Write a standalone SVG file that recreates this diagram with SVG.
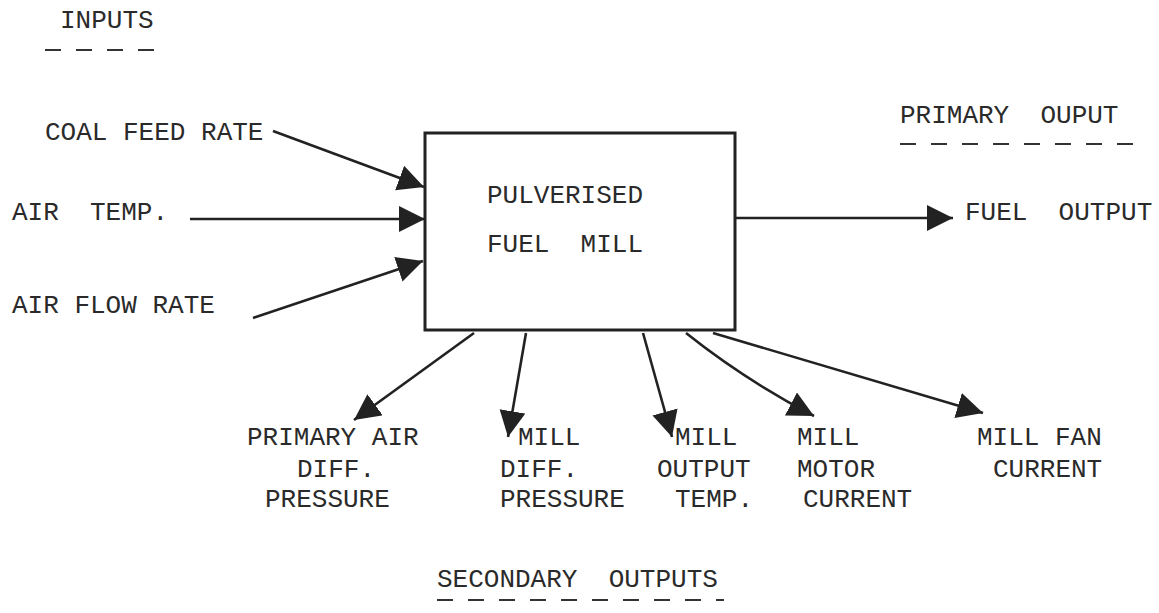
<svg xmlns="http://www.w3.org/2000/svg" width="1159" height="613" viewBox="0 0 1159 613" xml:space="preserve">
<style>
text{font-family:"Liberation Mono","DejaVu Sans Mono",monospace;font-size:26px;fill:#2a2a2a;white-space:pre;}
.c{stroke:#222;stroke-width:2.6;fill:none;}
.d{stroke:#333;stroke-width:2.2;stroke-dasharray:16 15;fill:none;}
</style>
<defs>
<marker id="ah" markerUnits="userSpaceOnUse" markerWidth="30" markerHeight="28" refX="26" refY="13" orient="auto">
<path d="M0,0 L26,13 L0,26 Z" fill="#222"/>
</marker>
</defs>
<rect width="1159" height="613" fill="#fff"/>
<g id="headings">
<text x="60" y="28">INPUTS</text>
<line class="d" x1="45" y1="50" x2="156" y2="50"/>
<text x="900" y="123">PRIMARY  OUPUT</text>
<line class="d" x1="900" y1="144" x2="1140" y2="144"/>
<text x="437" y="587">SECONDARY  OUTPUTS</text>
<line class="d" x1="437" y1="600" x2="724" y2="600"/>
</g>
<g id="mill">
<rect x="425" y="133" width="310" height="197" fill="none" stroke="#222" stroke-width="3"/>
<text x="487" y="203">PULVERISED</text>
<text x="487" y="252">FUEL  MILL</text>
</g>
<g id="in-coal"><text x="45" y="140">COAL FEED RATE</text></g>
<g id="in-airtemp"><text x="12" y="220">AIR  TEMP.</text></g>
<g id="in-airflow"><text x="12" y="313">AIR FLOW RATE</text></g>
<g id="out-fuel"><text x="965" y="220">FUEL  OUTPUT</text></g>
<g id="out-primaryair">
<text x="247" y="445">PRIMARY AIR</text>
<text x="297" y="477">DIFF.</text>
<text x="265" y="507">PRESSURE</text>
</g>
<g id="out-milldiff">
<text x="518" y="445">MILL</text>
<text x="500" y="477">DIFF.</text>
<text x="500" y="507">PRESSURE</text>
</g>
<g id="out-milloutput">
<text x="675" y="445">MILL</text>
<text x="657" y="477">OUTPUT</text>
<text x="675" y="507">TEMP.</text>
</g>
<g id="out-motor">
<text x="797" y="445">MILL</text>
<text x="797" y="477">MOTOR</text>
<text x="803" y="507">CURRENT</text>
</g>
<g id="out-fan">
<text x="977" y="445">MILL FAN</text>
<text x="993" y="477">CURRENT</text>
</g>
<g id="connectors">
<line class="c" x1="273" y1="131" x2="424" y2="187" marker-end="url(#ah)"/>
<line class="c" x1="190" y1="219" x2="425" y2="219" marker-end="url(#ah)"/>
<line class="c" x1="253" y1="318" x2="423" y2="261" marker-end="url(#ah)"/>
<line class="c" x1="735" y1="218" x2="953" y2="218" marker-end="url(#ah)"/>
<line class="c" x1="474" y1="333" x2="354" y2="420" marker-end="url(#ah)"/>
<line class="c" x1="526" y1="333" x2="508" y2="437" marker-end="url(#ah)"/>
<line class="c" x1="643" y1="333" x2="672" y2="437" marker-end="url(#ah)"/>
<path class="c" d="M686,333 Q745,380 814,416" marker-end="url(#ah)"/>
<path class="c" d="M713,333 Q840,370 983,413" marker-end="url(#ah)"/>
</g>
</svg>
